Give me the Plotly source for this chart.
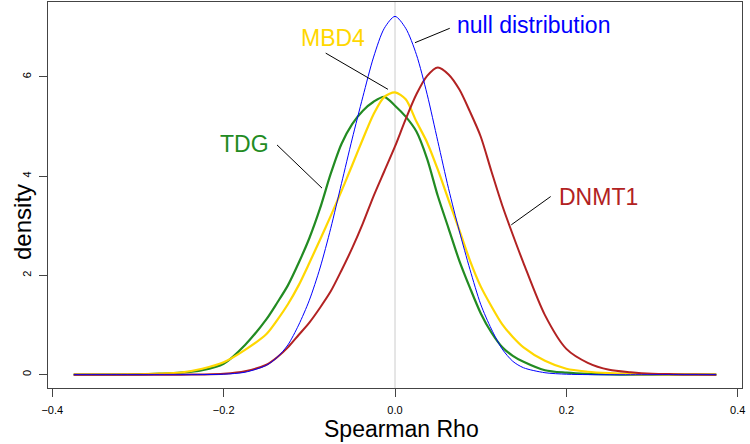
import plotly.graph_objects as go

# ---- data ----
rho = [-0.375, -0.35, -0.325, -0.3, -0.275, -0.25, -0.225, -0.2, -0.175, -0.15,
       -0.1375, -0.125, -0.1125, -0.1, -0.0875, -0.075, -0.0625, -0.05, -0.0375,
       -0.025, -0.0125, 0.0, 0.0125, 0.025, 0.0375, 0.05, 0.0625, 0.075, 0.0875,
       0.1, 0.1125, 0.125, 0.1375, 0.15, 0.175, 0.2, 0.225, 0.25, 0.275, 0.3,
       0.325, 0.35, 0.375]

null_density = [0, 0, 0, 0, 0, 0, 0.002, 0.01, 0.05, 0.19,
                0.35, 0.6, 1.0, 1.5, 2.15, 2.95, 3.85, 4.75, 5.6,
                6.4, 6.98, 7.22, 6.98, 6.45, 5.65, 4.7, 3.75, 2.9, 2.12,
                1.42, 0.92, 0.52, 0.27, 0.14, 0.04, 0.01, 0.002, 0, 0, 0,
                0, 0, 0]

mbd4_density = [0, 0, 0.003, 0.008, 0.02, 0.045, 0.12, 0.25, 0.5, 0.82,
                1.1, 1.42, 1.8, 2.25, 2.72, 3.2, 3.7, 4.22, 4.75,
                5.25, 5.6, 5.69, 5.55, 5.1, 4.68, 4.13, 3.52, 2.92, 2.3,
                1.78, 1.38, 1.02, 0.76, 0.55, 0.28, 0.12, 0.06, 0.03, 0.012, 0.005,
                0.002, 0, 0]

tdg_density = [0, 0.001, 0.003, 0.007, 0.02, 0.04, 0.09, 0.22, 0.6, 1.12,
               1.45, 1.8, 2.25, 2.75, 3.35, 4.05, 4.65, 5.05, 5.32,
               5.5, 5.6, 5.42, 5.2, 4.9, 4.35, 3.6, 2.95, 2.3, 1.75,
               1.24, 0.85, 0.56, 0.38, 0.26, 0.09, 0.04, 0.015, 0.005, 0.002, 0,
               0, 0, 0]

dnmt1_density = [0, 0, 0, 0, 0, 0, 0.005, 0.02, 0.07, 0.2,
                 0.35, 0.55, 0.8, 1.05, 1.35, 1.68, 2.1, 2.55, 3.05,
                 3.6, 4.1, 4.6, 5.15, 5.65, 6.02, 6.19, 6.05, 5.75, 5.3,
                 4.8, 4.1, 3.42, 2.82, 2.25, 1.2, 0.52, 0.24, 0.1, 0.05, 0.02,
                 0.01, 0.003, 0]

x_ticks = [-0.4, -0.2, 0.0, 0.2, 0.4]
x_tick_labels = ["\u22120.4", "\u22120.2", "0.0", "0.2", "0.4"]
y_ticks = [0, 2, 4, 6]
y_tick_labels = ["0", "2", "4", "6"]

FONT = "Liberation Sans, Arial, Helvetica, sans-serif"
BLUE = "#0000FF"
GOLD = "#FFD700"
GREEN = "#228B22"
RED = "#B22222"
AXIS = "#444444"

fig = go.Figure()
series = [
    ("TDG", tdg_density, GREEN, 2.2),
    ("MBD4", mbd4_density, GOLD, 2.2),
    ("DNMT1", dnmt1_density, RED, 2.0),
    ("null distribution", null_density, BLUE, 1.0),
]
for name, ys, col, w in series:
    fig.add_trace(go.Scatter(x=rho, y=ys, mode="lines", name=name,
                             line=dict(color=col, width=w, shape="spline", smoothing=0.8),
                             hoverinfo="skip", showlegend=False))

# vertical reference line at 0
fig.add_shape(type="line", xref="x", yref="paper", x0=0, x1=0, y0=0, y1=1,
              line=dict(color="#CCCCCC", width=1), layer="below")

# labels with leader lines
labels = [
    ("null distribution", 0.070, 7.05, BLUE, (0.0233, 6.69, 0.0639, 6.98)),
    ("MBD4", -0.112, 6.78, GOLD, (-0.0809, 6.48, -0.0082, 5.75)),
    ("TDG", -0.2065, 4.65, GREEN, (-0.1377, 4.63, -0.0852, 3.76)),
    ("DNMT1", 0.189, 3.58, RED, (0.1357, 3.02, 0.1817, 3.59)),
]
for text, lx, ly, col, (x0, y0, x1, y1) in labels:
    fig.add_annotation(x=lx, y=ly, xref="x", yref="y", text=text, showarrow=False,
                       xanchor="left", yanchor="middle",
                       font=dict(family=FONT, size=23, color=col))
    fig.add_shape(type="line", xref="x", yref="y", x0=x0, y0=y0, x1=x1, y1=y1,
                  line=dict(color="black", width=1))

# axis titles
fig.add_annotation(x=0.51, y=-0.107, xref="paper", yref="paper", text="Spearman Rho",
                   showarrow=False, xanchor="center", yanchor="middle",
                   font=dict(family=FONT, size=23, color="black"))
fig.add_annotation(x=-0.0375, y=0.43, xref="paper", yref="paper", text="density",
                   showarrow=False, xanchor="center", yanchor="middle", textangle=-90,
                   font=dict(family=FONT, size=24, color="black"))

fig.update_layout(
    width=750, height=444,
    margin=dict(l=48, r=8, t=2, b=56),
    paper_bgcolor="white", plot_bgcolor="white",
    font=dict(family=FONT, size=11, color="black"),
    xaxis=dict(range=[-0.405, 0.405], tickvals=x_ticks, ticktext=x_tick_labels,
               ticks="outside", ticklen=8, tickcolor=AXIS, tickwidth=1,
               showline=True, linecolor=AXIS, linewidth=1, mirror=True,
               showgrid=False, zeroline=False, ticklabelstandoff=4,
               tickfont=dict(family=FONT, size=11, color="black")),
    yaxis=dict(range=[-0.268, 7.51], tickvals=y_ticks, ticktext=y_tick_labels,
               ticks="outside", ticklen=8, tickcolor=AXIS, tickwidth=1,
               showline=True, linecolor=AXIS, linewidth=1, mirror=True,
               showgrid=False, zeroline=False, tickangle=-90, ticklabelstandoff=4,
               tickfont=dict(family=FONT, size=11, color="black")),
)

fig.write_html("out.html", config={"displayModeBar": False},
               post_script="document.body.style.margin='0';document.body.style.padding='0';"
                           "document.body.style.overflow='hidden';")
